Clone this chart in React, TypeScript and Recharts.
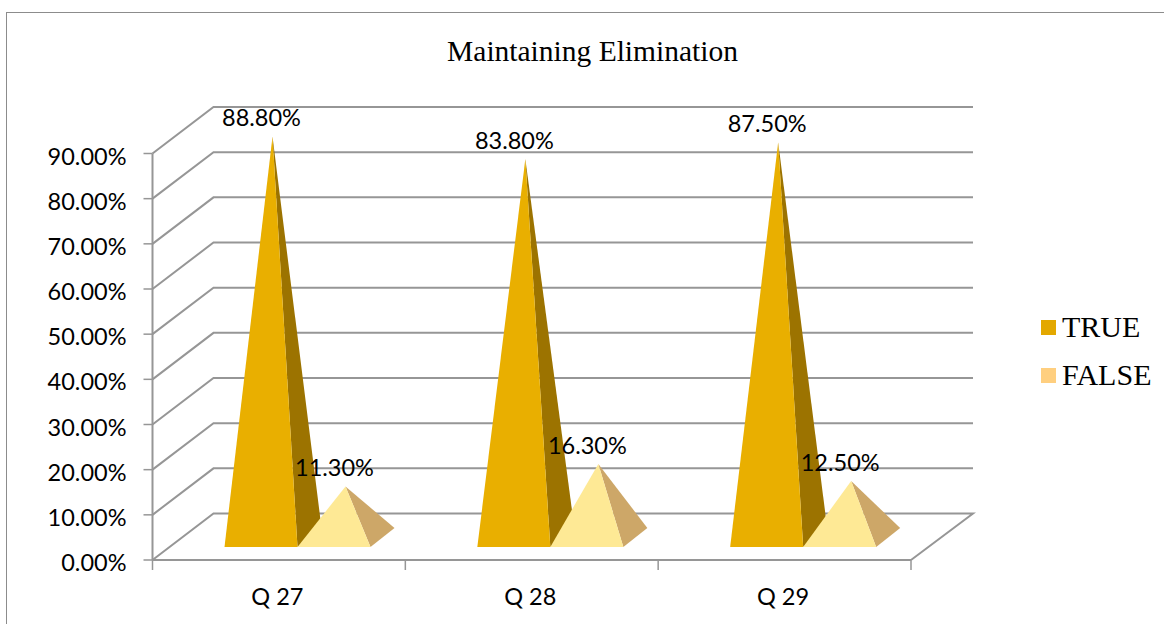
import React from 'react';
import {
  BarChart,
  Bar,
  XAxis,
  YAxis,
  CartesianGrid,
  Legend,
  LabelList,
} from 'recharts';

const questions = ['Q 27', 'Q 28', 'Q 29'];
const trueShare = [0.888, 0.838, 0.875];
const falseShare = [0.113, 0.163, 0.125];
const yTicks = [0, 0.1, 0.2, 0.3, 0.4, 0.5, 0.6, 0.7, 0.8, 0.9];

const data = questions.map((name, i) => ({
  name,
  TRUE: trueShare[i],
  FALSE: falseShare[i],
}));

const WIDTH = 1164;
const HEIGHT = 624;
const PLOT_LEFT = 152.5;
const PLOT_RIGHT = 911;
const PLOT_TOP = 153.5;
const PLOT_BOTTOM = 560;
const BAND = (PLOT_RIGHT - PLOT_LEFT) / questions.length;
const LEGEND_WIDTH = 123;

// depth of the fake 3D box
const DEPTH_X = 61;
const DEPTH_Y = 46.5;

const GRID = '#969696';
const LABEL_FONT = 'Lato, sans-serif';
const SERIF_FONT = '"Liberation Serif", serif';

const pct = (v: number) => `${(v * 100).toFixed(2)}%`;

// Each horizontal grid line wraps the side wall and the back wall
const WallLine = ({ x1, y1, x2, index }: any) => {
  const backLeft = x1 + DEPTH_X;
  const backRight = x2 + DEPTH_X + 1;
  const backY = y1 - DEPTH_Y;
  let points = `${x1},${y1} ${backLeft},${backY} ${backRight},${backY}`;
  if (index === 0) points += ` ${x2},${y1}`; // floor edge
  return <polyline points={points} fill="none" stroke={GRID} strokeWidth={2} />;
};

const pyramid =
  (front: string, side: string) =>
  ({ x, y, width, height }: any) => {
    const base = y + height;
    const left = x + 19;
    const right = left + width;
    const baseY = base - 13;
    const apex = `${x + width / 2 + 30.5},${y - 22.5}`;
    return (
      <g>
        <polygon
          points={`${right},${baseY} ${right + 24},${baseY - 19} ${apex}`}
          fill={side}
        />
        <polygon points={`${left},${baseY} ${right},${baseY} ${apex}`} fill={front} />
      </g>
    );
  };

// Value label sits up and to the left of the apex
const ApexLabel = ({ x, y, width, value }: any) => (
  <text
    x={x + width / 2 + 19.5}
    y={y - 41.5}
    textAnchor="middle"
    dominantBaseline="central"
    fontFamily={LABEL_FONT}
    fontSize={23.5}
    fill="#000"
  >
    {pct(value)}
  </text>
);

const QuestionTick = ({ x, payload, index }: any) => (
  <g>
    <line x1={x - BAND / 2} y1={PLOT_BOTTOM} x2={x - BAND / 2} y2={PLOT_BOTTOM + 10} stroke={GRID} strokeWidth={1.5} />
    {index === questions.length - 1 && (
      <line x1={x + BAND / 2} y1={PLOT_BOTTOM} x2={x + BAND / 2} y2={PLOT_BOTTOM + 10} stroke={GRID} strokeWidth={1.5} />
    )}
    <text
      x={x - 1.5}
      y={596}
      textAnchor="middle"
      dominantBaseline="central"
      fontFamily={LABEL_FONT}
      fontSize={23.5}
      fill="#000"
    >
      {payload.value}
    </text>
  </g>
);

const PercentTick = ({ x, y, payload }: any) => (
  <text
    x={x - 1}
    y={y + 2}
    textAnchor="end"
    dominantBaseline="central"
    fontFamily={LABEL_FONT}
    fontSize={23.5}
    fill="#000"
  >
    {pct(payload.value)}
  </text>
);

const LegendBlock = ({ payload }: any) => (
  <div>
    {payload.map((item: any) => (
      <div
        key={item.value}
        style={{
          display: 'flex',
          alignItems: 'center',
          height: 48,
          fontFamily: SERIF_FONT,
          fontSize: 30,
          color: '#000',
        }}
      >
        <span
          style={{
            width: 15,
            height: 15,
            marginRight: 6,
            background: item.color,
          }}
        />
        {item.value}
      </div>
    ))}
  </div>
);

export default function App() {
  return (
    <div style={{ position: 'absolute', left: 0, top: 0, width: WIDTH, height: HEIGHT, background: '#fff' }}>
      <div
        style={{
          position: 'absolute',
          left: 6,
          top: 12,
          right: 0,
          bottom: 0,
          borderTop: '1.5px solid #8c8c8c',
          borderLeft: '1.5px solid #8c8c8c',
        }}
      />
      <BarChart
        width={WIDTH}
        height={HEIGHT}
        data={data}
        barSize={73}
        barGap={0}
        margin={{
          top: PLOT_TOP,
          right: WIDTH - PLOT_RIGHT - LEGEND_WIDTH,
          left: PLOT_LEFT - 140,
          bottom: HEIGHT - PLOT_BOTTOM - 50,
        }}
        style={{ position: 'absolute', left: 0, top: 0 }}
      >
        <text
          x={592.5}
          y={51}
          textAnchor="middle"
          dominantBaseline="central"
          fontFamily={SERIF_FONT}
          fontSize={29.5}
          fill="#000"
        >
          Maintaining Elimination
        </text>
        <CartesianGrid vertical={false} horizontal={WallLine} />
        <XAxis
          dataKey="name"
          height={50}
          axisLine={{ stroke: GRID, strokeWidth: 2 }}
          tickLine={false}
          tick={QuestionTick}
          interval={0}
        />
        <YAxis
          width={140}
          domain={[0, 0.9]}
          ticks={yTicks}
          interval={0}
          axisLine={{ stroke: GRID, strokeWidth: 2 }}
          tickLine={{ stroke: GRID, strokeWidth: 1.5 }}
          tickSize={9}
          tickMargin={16}
          tick={PercentTick}
        />
        <Legend
          layout="vertical"
          align="right"
          verticalAlign="middle"
          itemSorter={null}
          content={LegendBlock}
          wrapperStyle={{ left: 1041, top: 303, width: LEGEND_WIDTH, bottom: 'auto', right: 'auto' }}
        />
        <Bar
          dataKey="TRUE"
          fill="#E3A800"
          shape={pyramid('#E9AF00', '#9C7300')}
          isAnimationActive={false}
        >
          <LabelList dataKey="TRUE" content={ApexLabel} />
        </Bar>
        <Bar
          dataKey="FALSE"
          fill="#FFCF7F"
          shape={pyramid('#FEE995', '#CDA768')}
          isAnimationActive={false}
        >
          <LabelList dataKey="FALSE" content={ApexLabel} />
        </Bar>
      </BarChart>
    </div>
  );
}
